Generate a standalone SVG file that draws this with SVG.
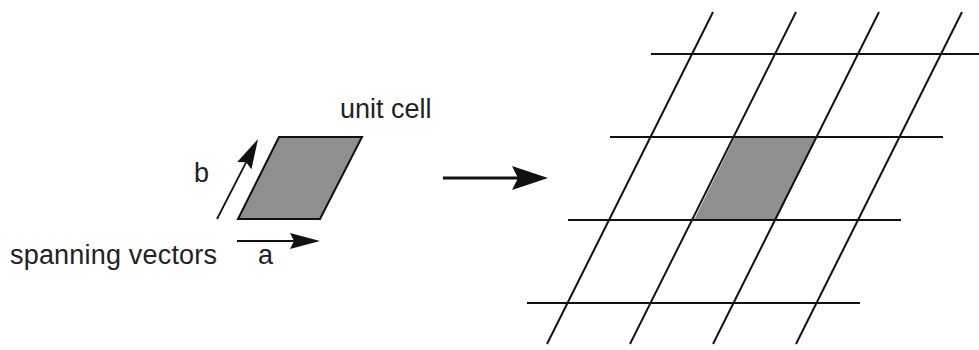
<svg xmlns="http://www.w3.org/2000/svg" width="979" height="350" viewBox="0 0 979 350">
<style>
.t{font-family:"Liberation Sans",Arial,sans-serif;font-size:27px;fill:#222}
.cell{fill:#8f8f8f;stroke:#111;stroke-width:2;stroke-linejoin:miter}
.ln{stroke:#111;stroke-width:2;fill:none}
.arw{stroke:#111;stroke-width:1.8;fill:none}
.big{stroke:#111;stroke-width:3.2;fill:none}
</style>
<defs>
<marker id="h" viewBox="0 0 30 16" refX="10" refY="8" markerWidth="30" markerHeight="16" markerUnits="userSpaceOnUse" orient="auto">
<path d="M0,0 L30,8 L0,16 L4,8 z" fill="#111"/>
</marker>
<marker id="hb" viewBox="0 0 36 24" refX="14" refY="12" markerWidth="36" markerHeight="24" markerUnits="userSpaceOnUse" orient="auto">
<path d="M0,0 L36,12 L0,24 L6,12 z" fill="#111"/>
</marker>
</defs>
<rect width="979" height="350" fill="#fff"/>
<g id="unit-cell">
<polygon class="cell" points="279,137 362,137 320,219 238,219"/>
<text class="t" x="340" y="118">unit cell</text>
</g>
<g id="vector-b">
<text class="t" x="194" y="182">b</text>
</g>
<g id="vector-a">
<text class="t" x="258" y="264">a</text>
</g>
<g id="spanning-label">
<text class="t" x="10" y="264" textLength="207">spanning vectors</text>
</g>
<g id="lattice">
<polygon points="735,137 817,137 776,220 694,220" fill="#8f8f8f"/>
<line class="ln" x1="651" y1="54" x2="979" y2="54"/>
<line class="ln" x1="610" y1="137" x2="943" y2="137"/>
<line class="ln" x1="568" y1="220" x2="901" y2="220"/>
<line class="ln" x1="527" y1="303" x2="860" y2="303"/>
<line class="ln" x1="713" y1="12" x2="547" y2="344"/>
<line class="ln" x1="796" y1="12" x2="630" y2="344"/>
<line class="ln" x1="879" y1="12" x2="713" y2="344"/>
<line class="ln" x1="962" y1="12" x2="796" y2="344"/>
</g>
<g id="connectors">
<line class="arw" x1="217" y1="219" x2="248.9" y2="156.8" marker-end="url(#h)"/>
<line class="arw" x1="237" y1="241" x2="300" y2="241" marker-end="url(#h)"/>
<line class="big" x1="443" y1="178" x2="526" y2="178" marker-end="url(#hb)"/>
</g>
</svg>
